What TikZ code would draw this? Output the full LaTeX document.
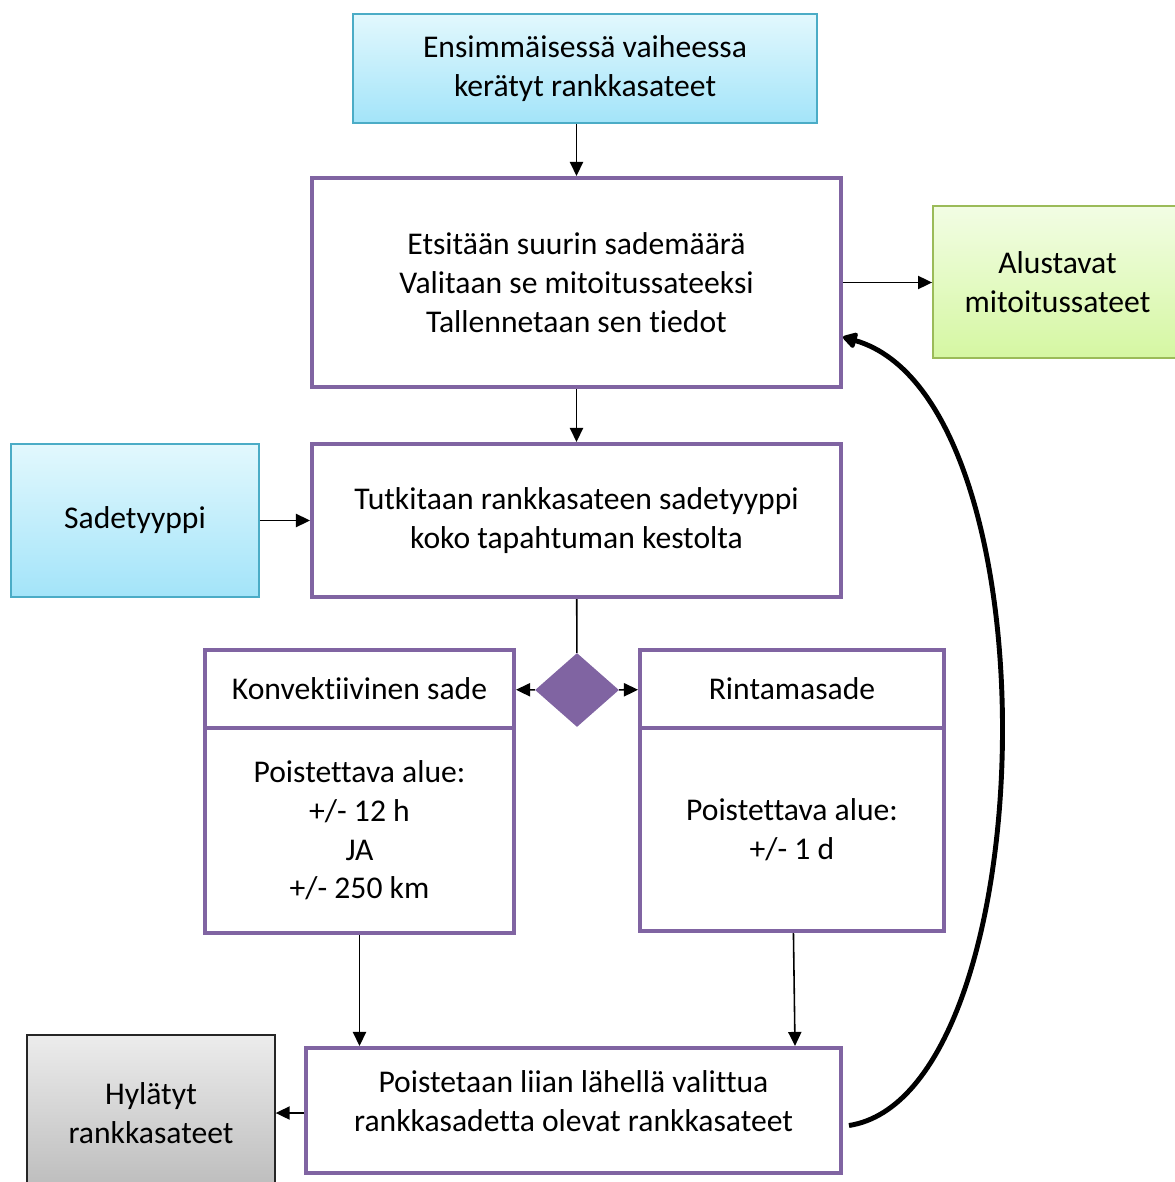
\documentclass[tikz,border=0pt]{standalone}
\usepackage{fontspec}
\setmainfont{Carlito}[RawFeature={-liga;-clig;-dlig;-calt}]
\usetikzlibrary{arrows.meta,shapes.geometric}

\definecolor{boxpurple}{RGB}{128,100,162}
\definecolor{cyanedge}{RGB}{75,172,198}
\definecolor{cyantop}{RGB}{226,248,253}
\definecolor{cyanbot}{RGB}{163,228,249}
\definecolor{greenedge}{RGB}{155,187,89}
\definecolor{greentop}{RGB}{242,253,228}
\definecolor{greenbot}{RGB}{213,247,162}
\definecolor{graytop}{RGB}{236,236,236}
\definecolor{graybot}{RGB}{188,188,188}

\tikzset{
    txt/.style={align=center, font=\fontsize{18}{22}\selectfont},
    procbox/.style={txt, draw=boxpurple, line width=2.3pt, fill=white, inner sep=0pt},
    inbox/.style={txt, draw=cyanedge, line width=1.1pt, top color=cyantop, bottom color=cyanbot, inner sep=0pt},
    outbox/.style={txt, draw=greenedge, line width=1.1pt, top color=greentop, bottom color=greenbot, inner sep=0pt},
    rejbox/.style={txt, draw=black!85, line width=0.8pt, top color=graytop, bottom color=graybot, inner sep=0pt},
    choice/.style={diamond, fill=boxpurple, inner sep=0pt, minimum width=1.68cm, minimum height=1.48cm},
    flow/.style={-{Triangle[length=8pt,width=7.5pt]}, line width=0.9pt},
    loopback/.style={-{Triangle[length=9pt,width=10pt,round]}, line width=2.8pt},
}

\begin{document}
\begin{tikzpicture}[x=0.02cm, y=-0.02cm]
    \useasboundingbox (0,0) rectangle (1174,1182);

    %inputs and outputs
    \node[inbox, minimum width=9.28cm, minimum height=2.18cm] (ensim) at (585, 68.5) {Ensimmäisessä vaiheessa\\kerätyt rankkasateet};
    \node[inbox, minimum width=4.96cm, minimum height=3.06cm] (tyyppi) at (135, 520.5) {Sadetyyppi};
    \node[outbox, minimum width=4.98cm, minimum height=3.04cm] (alust) at (1057.5, 282) {Alustavat\\mitoitussateet};
    \node[rejbox, minimum width=4.96cm, minimum height=3.12cm] (hyl) at (151, 1113) {Hylätyt\\rankkasateet};

    %process
    \node[procbox, minimum width=10.58cm, minimum height=4.18cm] (etsi) at (576.5, 282.5) {Etsitään suurin sademäärä\\Valitaan se mitoitussateeksi\\Tallennetaan sen tiedot};
    \node[procbox, minimum width=10.58cm, minimum height=3.06cm] (tutki) at (576.5, 520.5) {Tutkitaan rankkasateen sadetyyppi\\koko tapahtuman kestolta};
    \node[choice] (valinta) at (577, 690) {};

    %sade types
    \node[procbox, minimum width=6.18cm, minimum height=1.56cm] (konvhead) at (359.5, 689) {Konvektiivinen sade};
    \node[procbox, minimum width=6.18cm, minimum height=4.10cm] (konvbody) at (359.5, 830.5) {Poistettava alue:\\+/- 12 h\\JA\\+/- 250 km};
    \node[procbox, minimum width=6.08cm, minimum height=1.56cm] (rinthead) at (792, 689) {Rintamasade};
    \node[procbox, minimum width=6.08cm, minimum height=4.06cm] (rintbody) at (792, 829.5) {Poistettava alue:\\+/- 1 d};

    \node[procbox, minimum width=10.70cm, minimum height=2.50cm, label={[txt, yshift=0.19cm]center:Poistetaan liian lähellä valittua\\rankkasadetta olevat rankkasateet}] (poisto) at (573.5, 1110.5) {};

    %connectors
    \path [flow] (etsi.north |- ensim.south) edge (etsi);
    \path [flow] (etsi.east) edge (etsi.east -| alust.west);
    \path [flow] (etsi) edge (tutki);
    \path [flow] (tyyppi) edge (tutki);
    \draw [line width=0.9pt] (tutki) -- (valinta);
    \path [flow] (valinta) edge (konvhead);
    \path [flow] (valinta) edge (rinthead);
    \path [flow] (konvbody) edge (konvbody |- poisto.north);
    \path [flow] (rintbody) edge ([xshift=0.06cm]rintbody.south |- poisto.north);
    \path [flow] (poisto.west |- hyl.east) edge (hyl.east);
    \draw [loopback] ([xshift=0.12cm, yshift=-0.3cm]poisto.east) .. controls (1045, 1095) and (1060, 400) .. ([yshift=-1.09cm]etsi.east);
\end{tikzpicture}
\end{document}
